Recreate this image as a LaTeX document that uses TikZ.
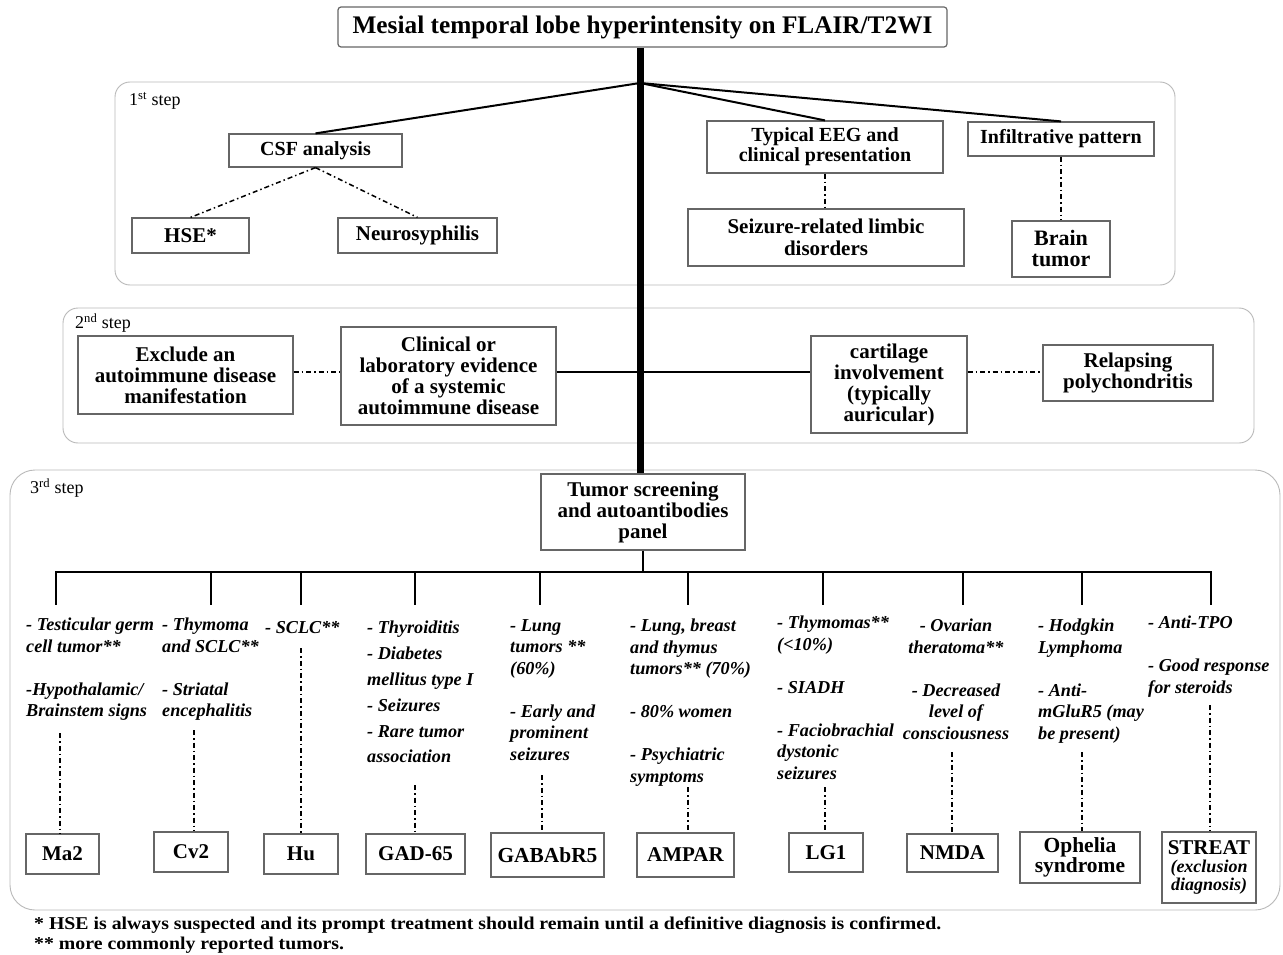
\documentclass[tikz,border=0pt]{standalone}
\usepackage{fontspec}
\setmainfont{Liberation Serif}
\newcommand\fsz[2]{\fontsize{#1}{#2}\selectfont}
\begin{document}
\begin{tikzpicture}[x=1pt,y=-1pt,
  bx/.style={draw=gray!80!black,line width=1.2pt,inner sep=0pt,align=center,font=\fsz{21}{21}\bfseries},
  stepframe/.style={draw=gray!55,line width=0.9pt,rounded corners=#1},
  conn/.style={line width=2pt,black},
  thickline/.style={line width=7pt,black},
  dd/.style={line width=1.5pt,black,dash pattern=on 5pt off 3pt on 1.5pt off 3pt},
  info/.style={inner sep=0pt,align=left,font=\fsz{18.2}{21.5}\bfseries\itshape},
  steplbl/.style={inner sep=0pt,anchor=west,font=\fsz{18}{18}},
  foot/.style={inner sep=0pt,anchor=west,font=\fsz{18}{18}\bfseries}]
\useasboundingbox[fill=white] (0,0) rectangle (1283,955);

% frames
\draw[stepframe=15pt] (115,82) rectangle (1175,285);
\draw[stepframe=15pt] (63,308) rectangle (1254,443);
\draw[stepframe=25pt] (10,470) rectangle (1280,910);
\node[steplbl] (s1) at (129,101) {1\textsuperscript{st} step};
\node[steplbl] (s2) at (75,323) {2\textsuperscript{nd} step};
\node[steplbl] (s3) at (30,488) {3\textsuperscript{rd} step};

% title
\node[bx,rounded corners=3pt,minimum width=609,minimum height=40,font=\fsz{25.3}{25}\bfseries] (title) at (642.5,27) {Mesial temporal lobe hyperintensity on FLAIR/T2WI};

% step 1
\coordinate (hub) at (640,83);
\node[bx,minimum width=173,minimum height=33,font=\fsz{20}{20}\bfseries] (csf) at (315.5,150.5) {CSF analysis};
\node[bx,minimum width=117,minimum height=35] (hse) at (190.5,235.5) {HSE*};
\node[bx,minimum width=159,minimum height=35] (neuro) at (417.5,235.5) {Neurosyphilis};
\node[bx,minimum width=236,minimum height=52,font=\fsz{20}{20}\bfseries] (eeg) at (825,147) {Typical EEG and\\clinical presentation};
\node[bx,minimum width=276,minimum height=57,font=\fsz{21}{21.5}\bfseries] (seiz) at (826,237.5) {Seizure-related limbic\\disorders};
\node[bx,minimum width=186,minimum height=34,font=\fsz{20}{20}\bfseries] (infil) at (1061,139) {Infiltrative pattern};
\node[bx,minimum width=98,minimum height=56,font=\fsz{22}{21}\bfseries] (brain) at (1061,249) {Brain\\tumor};

\draw[conn] (hub) -- (csf.north);
\draw[conn] (hub) -- (eeg.north);
\draw[conn] (hub) -- (infil.north);
\draw[dd] (csf.south) -- (hse.north);
\draw[dd] (csf.south) -- (neuro.north);
\draw[dd] (eeg.south) -- (eeg.south |- seiz.north);
\draw[dd] (infil.south) -- (infil.south |- brain.north);

% step 2
\coordinate (row2) at (640,372);
\node[bx,minimum width=215,minimum height=78] (excl) at (185.5,375) {Exclude an\\autoimmune disease\\manifestation};
\node[bx,minimum width=215,minimum height=98] (clin) at (448.5,376) {Clinical or\\laboratory evidence\\of a systemic\\autoimmune disease};
\node[bx,minimum width=156,minimum height=97] (cart) at (889,384.5) {cartilage\\involvement\\(typically\\auricular)};
\node[bx,minimum width=170,minimum height=56] (relap) at (1128,373) {Relapsing\\polychondritis};
\draw[conn] (clin.east |- row2) -- (cart.west |- row2);
\draw[dd] (excl.east |- row2) -- (clin.west |- row2);
\draw[dd] (cart.east |- row2) -- (relap.west |- row2);

% step 3
\node[bx,fill=white,minimum width=204,minimum height=76] (tumor) at (643,512) {Tumor screening\\and autoantibodies\\panel};
\draw[thickline] (title.south -| hub) -- (tumor.north -| hub);

\coordinate (bar) at (643,572);
\coordinate (barL) at (56,572);
\coordinate (barR) at (1211,572);
\draw[conn] (tumor.south) -- (tumor.south |- bar);
\draw[conn] (barL) -- (barR);
\foreach \x in {56,211,301,415,540,688,823,963,1082,1211}
  \draw[conn] (\x,571) -- (\x,605);

% info texts
\node[info,anchor=north west] (t1) at (26,618) {- Testicular germ\\cell tumor**\\[21.5pt]-Hypothalamic/\\Brainstem signs};
\node[info,anchor=north west] (t2) at (162,618) {- Thymoma\\and SCLC**\\[21.5pt]- Striatal\\encephalitis};
\node[info,anchor=north west] (t3) at (265,621) {- SCLC**};
\node[info,anchor=north west,font=\fsz{18.2}{25.8}\bfseries\itshape] (t4) at (367,621) {- Thyroiditis\\- Diabetes\\mellitus type I\\- Seizures\\- Rare tumor\\association};
\node[info,anchor=north west] (t5) at (510,619) {- Lung\\tumors **\\(60\%)\\[21.5pt]- Early and\\prominent\\seizures};
\node[info,anchor=north west] (t6) at (630,619) {- Lung, breast\\and thymus\\tumors** (70\%)\\[21.5pt]- 80\% women\\[21.5pt]- Psychiatric\\symptoms};
\node[info,anchor=north west] (t7) at (777,616) {- Thymomas**\\(<10\%)\\[21.5pt]- SIADH\\[21.5pt]- Faciobrachial\\dystonic\\seizures};
\node[info,anchor=north,align=center] (t8) at (956,619) {- Ovarian\\theratoma**\\[21.5pt]- Decreased\\level of\\consciousness};
\node[info,anchor=north west] (t9) at (1038,619) {- Hodgkin\\Lymphoma\\[21.5pt]- Anti-\\mGluR5 (may\\be present)};
\node[info,anchor=north west] (t10) at (1148,616) {- Anti-TPO\\[21.5pt]- Good response\\for steroids};

% antibody boxes
\node[bx,minimum width=73,minimum height=40] (ma2) at (62.5,854) {Ma2};
\node[bx,minimum width=74,minimum height=40] (cv2) at (191,852) {Cv2};
\node[bx,minimum width=74,minimum height=40] (hu) at (301,854) {Hu};
\node[bx,minimum width=99,minimum height=40] (gad) at (415.5,854) {GAD-65};
\node[bx,minimum width=113,minimum height=44,font=\fsz{21.4}{21}\bfseries] (gabab) at (547.5,855) {GABAbR5};
\node[bx,minimum width=97,minimum height=44] (ampar) at (685.5,855) {AMPAR};
\node[bx,minimum width=74,minimum height=39] (lg1) at (826,852.5) {LG1};
\node[bx,minimum width=91,minimum height=38] (nmda) at (952.5,853) {NMDA};
\node[bx,minimum width=120,minimum height=51,font=\fsz{21.5}{20}\bfseries] (oph) at (1080,857.5) {Ophelia\\syndrome};
\node[bx,minimum width=94,minimum height=71] (streat) at (1209,867.5) {STREAT\\[-3pt]{\fsz{18}{17}\itshape (exclusion}\\[-3pt]{\fsz{18}{17}\itshape diagnosis)}};

% dash-dot links
\coordinate (d1) at (60,733);
\coordinate (d2) at (194,730);
\coordinate (d3) at (301,648);
\coordinate (d4) at (415,785);
\coordinate (d5) at (542,775);
\coordinate (d6) at (688,787);
\coordinate (d7) at (825,787);
\coordinate (d8) at (952,752);
\coordinate (d9) at (1082,752);
\coordinate (d10) at (1210,705);
\draw[dd] (d1) -- (d1 |- ma2.north);
\draw[dd] (d2) -- (d2 |- cv2.north);
\draw[dd] (d3) -- (d3 |- hu.north);
\draw[dd] (d4) -- (d4 |- gad.north);
\draw[dd] (d5) -- (d5 |- gabab.north);
\draw[dd] (d6) -- (d6 |- ampar.north);
\draw[dd] (d7) -- (d7 |- lg1.north);
\draw[dd] (d8) -- (d8 |- nmda.north);
\draw[dd] (d9) -- (d9 |- oph.north);
\draw[dd] (d10) -- (d10 |- streat.north);

% footnotes
\node[foot] (f1) at (34,925) {\scalebox{1.1}[1]{* HSE is always suspected and its prompt treatment should remain until a definitive diagnosis is confirmed.}};
\node[foot] (f2) at (34,945) {\scalebox{1.1}[1]{** more commonly reported tumors.}};
\end{tikzpicture}
\end{document}
